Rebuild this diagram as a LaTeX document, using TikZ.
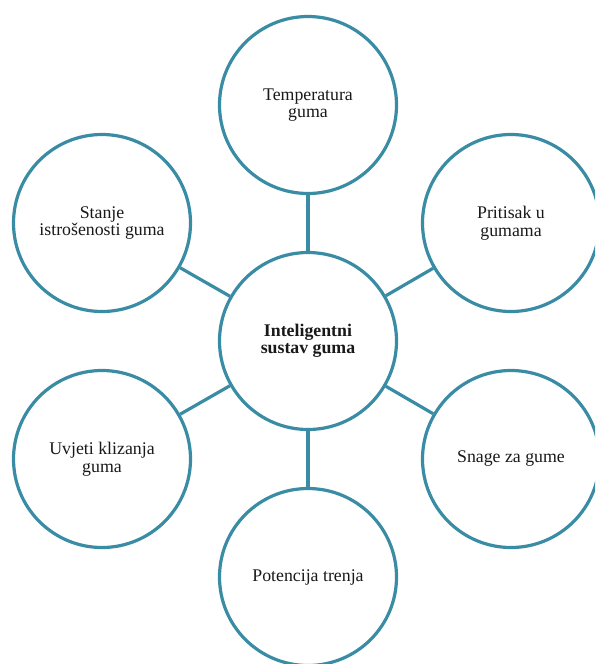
\documentclass[tikz,border=0pt]{standalone}
\usepackage{fontspec}
\setmainfont{Liberation Serif}
\definecolor{ringcol}{HTML}{3A8CA5}
\tikzset{
  bubble/.style={circle, draw=ringcol, line width=3.2pt, fill=white, minimum size=177pt, inner sep=0pt, align=center,
    font=\fontsize{17.8}{17.5}\selectfont, text=black!90},
  link/.style={draw=ringcol, line width=3.2pt}
}
\begin{document}
\begin{tikzpicture}[x=1pt,y=-1pt]
\useasboundingbox (0,0) rectangle (595,664);
\clip (0,0) rectangle (595,664);
\node[bubble] (c) at (308,341) {\textbf{Inteligentni}\\\textbf{sustav guma}};
\node[bubble] (t) at (308,105) {Temperatura\\guma};
\node[bubble] (ul) at (102,223) {Stanje\\istrošenosti guma};
\node[bubble] (ur) at (511,223) {Pritisak u\\gumama};
\node[bubble] (ll) at (102,459) {Uvjeti klizanja\\guma};
\node[bubble] (lr) at (511,459) {Snage za gume};
\node[bubble] (b) at (308,577) {Potencija trenja};
\foreach \n in {t,ul,ur,ll,lr,b}{
  \draw[link] (c) -- (\n);
}
\end{tikzpicture}
\end{document}
